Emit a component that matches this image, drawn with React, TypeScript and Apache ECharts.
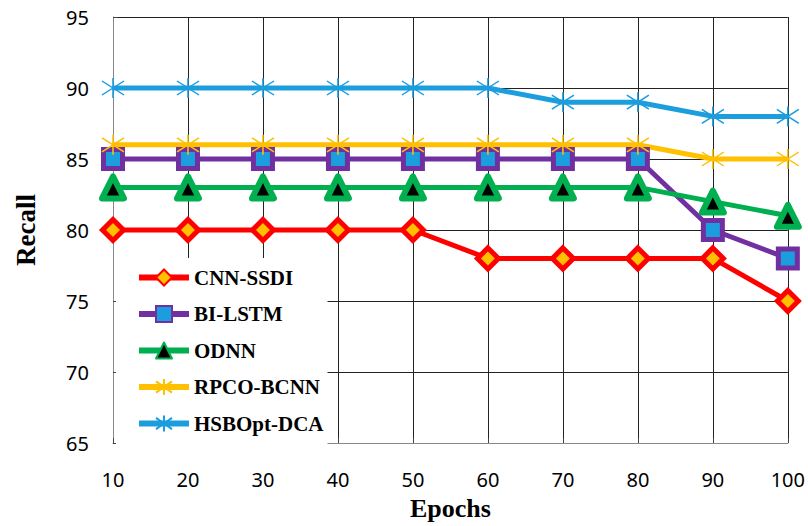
import React, { useEffect, useRef } from "react";
import * as echarts from "echarts";

const epochs = [10, 20, 30, 40, 50, 60, 70, 80, 90, 100];
const cnnSsdi = [80, 80, 80, 80, 80, 78, 78, 78, 78, 75];
const biLstm = [85, 85, 85, 85, 85, 85, 85, 85, 80, 78];
const odnn = [83, 83, 83, 83, 83, 83, 83, 83, 82, 81];
const rpcoBcnn = [86, 86, 86, 86, 86, 86, 86, 86, 85, 85];
const hsbOptDca = [90, 90, 90, 90, 90, 90, 89, 89, 88, 88];
const yTicks = [65, 70, 75, 80, 85, 90, 95];

const star = "path://M-10,-7L10,7M-10,7L10,-7M0,-10L0,10";

export default function App() {
  const ref = useRef<HTMLDivElement>(null);
  useEffect(() => {
    if (!ref.current) return;
    const chart = echarts.init(ref.current, null, { renderer: "svg" });
    const pair = (v: number[]) => v.map((y, i) => [epochs[i], y]);
    const tickFont = { fontFamily: "Noto Sans", fontSize: 20, color: "#000" };
    chart.setOption({
      animation: false,
      backgroundColor: "#fff",
      grid: { left: 113, right: 20, top: 17, bottom: 80 },
      xAxis: {
        type: "value",
        min: 10,
        max: 100,
        interval: 10,
        name: "Epochs",
        nameLocation: "middle",
        nameGap: 52,
        nameTextStyle: { fontFamily: "Liberation Serif", fontWeight: "bold", fontSize: 26, color: "#000" },
        axisLine: { lineStyle: { color: "#888", width: 1 } },
        axisTick: { show: true, inside: true, length: 5, lineStyle: { color: "#444" } },
        axisLabel: { ...tickFont, margin: 26 },
        splitLine: { show: true, lineStyle: { color: "#222", width: 1 } },
      },
      yAxis: {
        type: "value",
        min: 65,
        max: 95,
        interval: 5,
        name: "Recall",
        nameLocation: "middle",
        nameGap: 74,
        nameTextStyle: { fontFamily: "Liberation Serif", fontWeight: "bold", fontSize: 27, color: "#000" },
        axisLine: { show: true, lineStyle: { color: "#888", width: 1 } },
        axisTick: { show: true, inside: true, length: 5, lineStyle: { color: "#444" } },
        axisLabel: { ...tickFont, margin: 24, formatter: (v: number) => (yTicks.includes(v) ? String(v) : "") },
        splitLine: { show: true, lineStyle: { color: "#222", width: 1 } },
      },
      legend: {
        orient: "vertical",
        left: 116,
        top: 258,
        width: 220,
        padding: [9, 4, 12, 20],
        backgroundColor: "#fff",
        itemWidth: 50,
        itemHeight: 20,
        itemGap: 15.5,
        lineStyle: { width: 6 },
        textStyle: { fontFamily: "Liberation Serif", fontWeight: "bold", fontSize: 21, color: "#000" },
        data: ["CNN-SSDI", "BI-LSTM", "ODNN", "RPCO-BCNN", "HSBOpt-DCA"],
      },
      series: [
        {
          name: "CNN-SSDI",
          type: "line",
          data: pair(cnnSsdi),
          symbol: "diamond",
          symbolSize: 21,
          lineStyle: { color: "#FF0000", width: 5 },
          itemStyle: { color: "#FFC000", borderColor: "#FF0000", borderWidth: 5 },
        },
        {
          name: "BI-LSTM",
          type: "line",
          data: pair(biLstm),
          symbol: "rect",
          symbolSize: 19,
          lineStyle: { color: "#7030A0", width: 5 },
          itemStyle: { color: "#1B9DDE", borderColor: "#7030A0", borderWidth: 5 },
        },
        {
          name: "ODNN",
          type: "line",
          data: pair(odnn),
          symbol: "triangle",
          symbolSize: 22,
          lineStyle: { color: "#00B050", width: 5 },
          itemStyle: { color: "#000", borderColor: "#00B050", borderWidth: 6, borderJoin: "round" },
        },
        {
          name: "RPCO-BCNN",
          type: "line",
          data: pair(rpcoBcnn),
          symbol: star,
          symbolSize: [22, 20],
          lineStyle: { color: "#FFC000", width: 5 },
          itemStyle: { color: "#FFC000", borderColor: "#FFC000", borderWidth: 1.5 },
        },
        {
          name: "HSBOpt-DCA",
          type: "line",
          data: pair(hsbOptDca),
          symbol: star,
          symbolSize: [22, 20],
          lineStyle: { color: "#1B9DDE", width: 5 },
          itemStyle: { color: "#1B9DDE", borderColor: "#1B9DDE", borderWidth: 1.5 },
        },
      ],
    });
    return () => chart.dispose();
  }, []);
  return <div ref={ref} style={{ width: 808, height: 526, position: "absolute", left: 0, top: 0 }} />;
}
